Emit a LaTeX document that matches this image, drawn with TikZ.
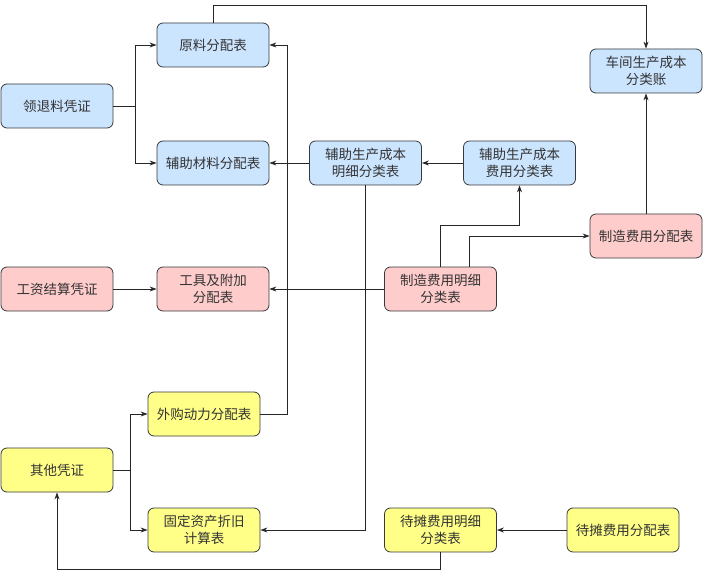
\documentclass[tikz,border=0pt]{standalone}
\usepackage{fontspec}
\setmainfont{Noto Sans CJK SC}
\usetikzlibrary{arrows.meta}
\definecolor{bfill}{HTML}{CCE5FF}
\definecolor{pfill}{HTML}{FFCCCC}
\definecolor{yfill}{HTML}{FFFF88}
\definecolor{bstroke}{HTML}{36393D}
\tikzset{
  box/.style={draw=bstroke, line width=0.8pt, rounded corners=6pt, minimum width=112pt, minimum height=44pt, inner sep=2pt, align=center, font=\fontsize{13.5}{16.5}\selectfont, text=black!80},
  bbox/.style={box, fill=bfill},
  pbox/.style={box, fill=pfill},
  ybox/.style={box, fill=yfill},
  conn/.style={line width=0.8pt, draw=black!85, -{Stealth[length=7pt,width=5pt]}},
  plain/.style={line width=0.8pt, draw=black!85},
}
\begin{document}
\begin{tikzpicture}[x=1pt,y=-1pt]
\useasboundingbox (0,0) rectangle (703,577);
% blue
\node[bbox] (yl) at (57,106) {领退料凭证};
\node[bbox] (yf) at (213,45) {原料分配表};
\node[bbox] (fz) at (213,163) {辅助材料分配表};
\node[bbox] (mx) at (365.5,163) {辅助生产成本\\明细分类表};
\node[bbox] (fy) at (519.5,163) {辅助生产成本\\费用分类表};
\node[bbox] (cj) at (646,71) {车间生产成本\\分类账};
% pink
\node[pbox] (zf) at (646,236) {制造费用分配表};
\node[pbox] (zm) at (440.5,289) {制造费用明细\\分类表};
\node[pbox] (gz) at (57,289) {工资结算凭证};
\node[pbox] (gj) at (213,289) {工具及附加\\分配表};
% yellow
\node[ybox] (wg) at (204,414) {外购动力分配表};
\node[ybox] (qt) at (57,470) {其他凭证};
\node[ybox] (gd) at (204,530) {固定资产折旧\\计算表};
\node[ybox] (dm) at (440.5,530) {待摊费用明细\\分类表};
\node[ybox] (dp) at (623,530) {待摊费用分配表};
% coordinates
\coordinate (j1) at (135,106);
\coordinate (j2) at (130,470);
% connectors
\draw[plain] (yl.east) -- (j1);
\draw[conn] (j1) |- (yf.west);
\draw[conn] (j1) |- (fz.west);
\draw[conn] (yf.north) -- ++(0,-17) -| (cj.north);
\draw[conn] (wg.east) -| (287,45) -- (yf.east);
\draw[conn] (mx.west) -- (fz.east);
\draw[conn] (fy.west) -- (mx.east);
\draw[conn] (mx.south) |- (gd.east);
\draw[conn] (zm.west) -- (gj.east);
\draw[conn] (gz.east) -- (gj.west);
\draw[conn] (zm.north) -- ++(0,-41) -| (fy.south);
\draw[conn] ([xshift=29pt]zm.north) |- (zf.west);
\draw[conn] (zf.north) -- (cj.south);
\draw[plain] (qt.east) -- (j2);
\draw[conn] (j2) |- (wg.west);
\draw[conn] (j2) |- (gd.west);
\draw[conn] (dp.west) -- (dm.east);
\draw[conn] (dm.south) -- ++(0,17) -| (qt.south);
\end{tikzpicture}
\end{document}
